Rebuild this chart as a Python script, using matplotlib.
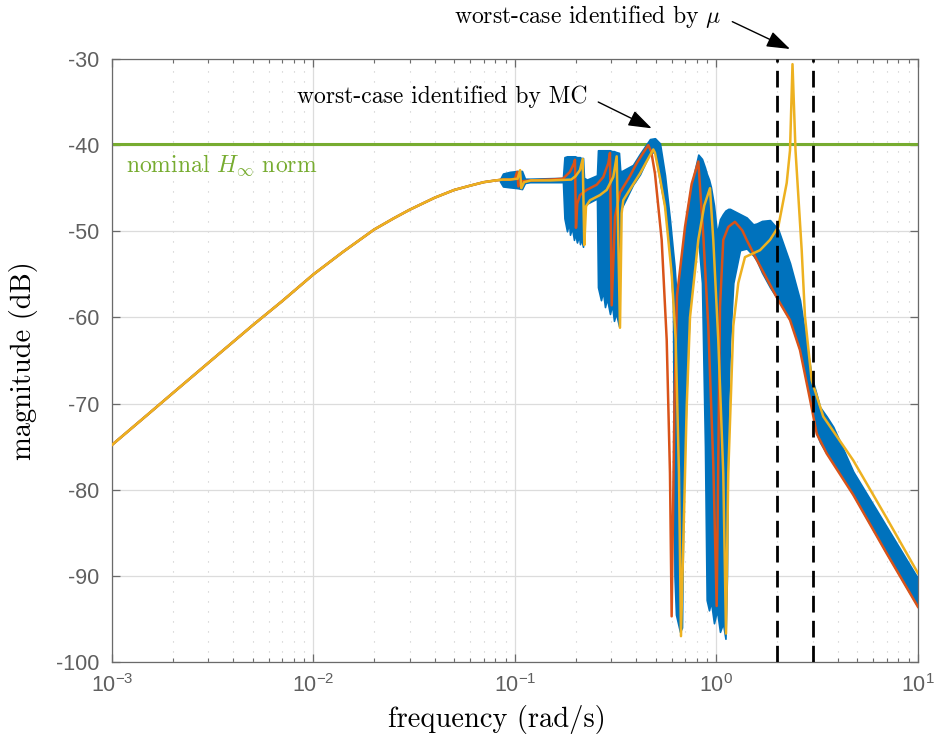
import numpy as np
import matplotlib
matplotlib.use('Agg')
import matplotlib.pyplot as plt
from matplotlib.ticker import LogLocator, NullFormatter, FixedLocator

# low frequency part, all samples lie on top of each other there
f_low = [0.001, 0.0015, 0.002, 0.003, 0.005, 0.007, 0.01, 0.014, 0.02, 0.025,
         0.03, 0.04, 0.05, 0.06, 0.07, 0.08, 0.087]
db_low = [-74.8, -71.3, -68.8, -65.3, -60.9, -58.1, -55.0, -52.4, -49.8, -48.5,
          -47.5, -46.1, -45.2, -44.7, -44.3, -44.1, -44.0]

# worst case found by Monte Carlo (red)
f_mc = [0.0945, 0.100, 0.1025, 0.104, 0.108, 0.12, 0.15, 0.173, 0.1875, 0.1963,
        0.1985, 0.2008, 0.2038, 0.2102, 0.2269, 0.2543, 0.2743, 0.2904, 0.2961, 0.3020,
        0.3136, 0.3320, 0.3721, 0.4018, 0.43, 0.4587, 0.475, 0.4952, 0.5346, 0.5662,
        0.5878, 0.5992, 0.6188, 0.6368, 0.6591, 0.6979, 0.7531, 0.8124, 0.8600, 0.9106,
        0.9641, 1.0023, 1.0409, 1.0807, 1.1443, 1.235, 1.343, 1.412, 1.583, 2.026,
        2.317, 2.597, 2.911, 3.144, 3.523, 4.774, 6.995, 10.0]
db_mc = [-44.0, -43.9, -43.1, -44.8, -44.2, -44.1, -44.0, -43.9, -43.1, -42.1,
         -41.7, -49.6, -46.8, -45.8, -45.2, -44.6, -43.7, -42.1, -40.9, -58.6,
         -48.3, -45.5, -43.6, -42.1, -41.0, -40.0, -40.8, -43.3, -51.0, -62.6,
         -78.1, -94.7, -70.0, -57.5, -54.5, -49.5, -44.5, -41.9, -50.5, -61.0,
         -77.0, -93.5, -58.8, -51.0, -49.5, -48.9, -49.9, -51.0, -53.3, -58.0,
         -60.3, -63.8, -69.5, -73.5, -75.8, -80.6, -87.4, -93.6]

# worst case found by mu analysis (yellow)
f_mu = [0.0945, 0.103, 0.106, 0.1075, 0.111, 0.12, 0.15, 0.19, 0.20, 0.2102,
        0.2168, 0.2208, 0.2252, 0.2357, 0.2641, 0.2852, 0.3075, 0.3197, 0.3320, 0.3384,
        0.3447, 0.38, 0.4172, 0.4857, 0.4952, 0.5243, 0.5552, 0.5992, 0.6274, 0.6514,
        0.6665, 0.7115, 0.7389, 0.8124, 0.87, 0.9284, 0.9641, 1.0207, 1.0807, 1.115,
        1.1443, 1.212, 1.283, 1.385, 1.644, 1.843, 2.026, 2.231, 2.317, 2.384,
        2.467, 2.648, 2.749, 2.968, 3.388, 4.774, 6.995, 10.0]
db_mu = [-44.0, -43.9, -42.9, -45.0, -44.3, -44.1, -44.1, -44.0, -43.6, -42.9,
         -41.6, -51.6, -47.1, -46.4, -45.8, -45.2, -43.7, -41.3, -61.2, -47.9,
         -46.4, -44.8, -43.3, -40.5, -40.9, -43.8, -47.1, -54.9, -62.6, -78.1,
         -97.0, -70.4, -60.0, -51.0, -47.0, -45.0, -51.0, -62.6, -78.1, -96.7,
         -78.0, -61.0, -56.0, -53.0, -52.2, -51.0, -49.5, -44.4, -40.6, -30.6,
         -40.6, -52.2, -59.9, -67.3, -71.5, -76.6, -83.3, -89.7]

# envelope of the Monte Carlo samples (blue)
f_env = [0.0842, 0.0872, 0.0945, 0.1035, 0.1083, 0.1121, 0.1187, 0.1730, 0.1760, 0.1812,
         0.1854, 0.1875, 0.1918, 0.1963, 0.1985, 0.2031, 0.2078, 0.2102, 0.2126, 0.2176,
         0.2200, 0.2277, 0.2552, 0.2582, 0.2672, 0.2733, 0.2797, 0.2861, 0.2961, 0.3030,
         0.3100, 0.3172, 0.3282, 0.3330, 0.3396, 0.3851, 0.4172, 0.4677, 0.4952, 0.5243,
         0.5552, 0.5878, 0.6083, 0.6188, 0.6295, 0.6368, 0.6591, 0.6743, 0.6860, 0.7115,
         0.7389, 0.7822, 0.8124, 0.8472, 0.8767, 0.8941, 0.9181, 0.9391, 0.9719, 1.0058,
         1.0409, 1.077, 1.108, 1.127, 1.1443, 1.167, 1.212, 1.308, 1.412, 1.522,
         1.583, 1.682, 1.843, 2.026, 2.317, 2.597, 2.968, 3.144, 3.264, 3.523,
         3.799, 4.774, 6.995, 10.0]
db_env_hi = [-44.0, -43.3, -43.1, -43.0, -43.0, -43.9, -43.9, -43.8, -41.4, -41.3,
             -41.3, -41.3, -41.3, -41.3, -41.3, -41.4, -41.4, -41.4, -41.5, -41.5,
             -43.8, -44.0, -43.5, -40.6, -40.6, -40.6, -40.6, -40.6, -40.6, -40.7,
             -40.7, -40.8, -40.9, -43.0, -43.0, -42.3, -41.0, -39.3, -39.2, -39.8,
             -43.5, -48.7, -52.3, -54.0, -56.5, -57.5, -55.0, -52.8, -51.0, -48.0,
             -45.5, -42.8, -41.1, -41.6, -42.6, -43.3, -44.0, -44.9, -47.0, -50.3,
             -48.6, -48.0, -47.6, -47.5, -47.4, -47.4, -47.6, -48.0, -48.4, -49.2,
             -49.1, -48.8, -48.7, -49.8, -53.7, -58.0, -66.9, -69.0, -70.4, -71.5,
             -72.7, -77.9, -84.3, -90.3]
db_env_lo = [-44.2, -44.8, -44.9, -45.0, -45.1, -44.4, -44.3, -44.3, -48.5, -50.0,
             -49.0, -50.4, -49.6, -51.0, -50.2, -51.3, -50.5, -51.5, -50.8, -51.8,
             -47.0, -46.8, -46.2, -56.5, -58.0, -57.0, -58.8, -57.8, -59.6, -58.5,
             -60.4, -59.5, -61.0, -47.5, -47.2, -44.6, -43.4, -40.9, -40.8, -44.3,
             -47.3, -52.5, -58.5, -90.0, -94.5, -95.0, -96.5, -96.0, -80.0, -68.0,
             -58.0, -53.0, -51.0, -56.0, -75.0, -92.8, -94.0, -93.0, -95.5, -94.0,
             -96.5, -95.5, -97.3, -90.0, -70.0, -63.0, -56.0, -52.2, -52.0, -52.8,
             -53.4, -54.8, -56.5, -58.0, -60.3, -63.8, -70.0, -73.5, -74.5, -75.8,
             -76.8, -80.6, -87.4, -93.6]

hinf_nominal = -39.85
f_dashed = [2.0, 3.0]

c_blue = '#0072BD'
c_red = '#D95319'
c_yellow = '#EDB120'
c_green = '#77AC30'
c_axis = '#6a6a6a'

plt.rcParams['font.family'] = ['Liberation Sans', 'DejaVu Sans']
plt.rcParams['axes.unicode_minus'] = False

fig = plt.figure(figsize=(9.37, 7.40), dpi=100)
ax = fig.add_axes([0.1195, 0.1054, 0.8602, 0.8149])

ax.axhline(hinf_nominal, color=c_green, lw=2.2, zorder=1.5)

ax.plot(f_low, db_low, color=c_blue, lw=1.6, zorder=2)
ax.fill_between(f_env, db_env_lo, db_env_hi, facecolor=c_blue, edgecolor=c_blue,
                lw=1.2, zorder=2)
ax.plot(f_low + f_mc, db_low + db_mc, color=c_red, lw=1.8, zorder=3)
ax.plot(f_low + f_mu, db_low + db_mu, color=c_yellow, lw=1.8, zorder=4)

for fd in f_dashed:
    ax.axvline(fd, color='k', lw=2.0, ls=(0, (6, 3)), zorder=5)

ax.set_xscale('log')
ax.set_xlim(1e-3, 10)
ax.set_ylim(-100, -30)
ax.yaxis.set_major_locator(FixedLocator(np.arange(-100, -29, 10)))
ax.xaxis.set_major_locator(LogLocator(base=10, numticks=10))
ax.xaxis.set_minor_locator(LogLocator(base=10, subs=np.arange(2, 10), numticks=20))
ax.xaxis.set_minor_formatter(NullFormatter())

ax.set_axisbelow(True)
ax.grid(True, which='major', color='#dcdcdc', lw=0.9, ls='-')
ax.grid(True, which='minor', axis='x', color='#c8c8c8', lw=0.8, ls=(0, (1, 8)))

ax.tick_params(which='both', direction='in', top=True, right=True,
               color=c_axis, labelcolor='#5f5f5f', labelsize=15.5, pad=9)
ax.tick_params(which='major', length=6, width=0.9)
ax.tick_params(which='minor', length=3, width=0.8)
for sp in ax.spines.values():
    sp.set_color(c_axis)
    sp.set_linewidth(0.9)

ax.set_xlabel('frequency (rad/s)', family='cmr10', fontsize=20.5)
ax.set_ylabel('magnitude (dB)', family='cmr10', fontsize=20.5)
ax.xaxis.set_label_coords(0.478, -0.072)
ax.yaxis.set_label_coords(-0.092, 0.5)

ax.text(1.173e-3, -42.4, r'nominal $H_\infty$ norm', color=c_green, family='cmr10',
        math_fontfamily='cm', fontsize=17, ha='left', va='center')

arrow = dict(arrowstyle='-|>,head_length=0.72,head_width=0.25', color='k', lw=1.0,
             mutation_scale=20, relpos=(1, 0.5), shrinkA=6, shrinkB=0)
ax.annotate('worst-case identified by MC', xy=(0.477, -38.05), xytext=(0.2303, -34.41),
            ha='right', va='center', family='cmr10', fontsize=17,
            arrowprops=arrow, annotation_clip=False)
ax.annotate(r'worst-case identified by $\mu$', xy=(2.317, -28.84), xytext=(1.065, -25.1),
            ha='right', va='center', family='cmr10', math_fontfamily='cm', fontsize=17,
            arrowprops=arrow, annotation_clip=False)

fig.savefig('out.png', dpi=100)
